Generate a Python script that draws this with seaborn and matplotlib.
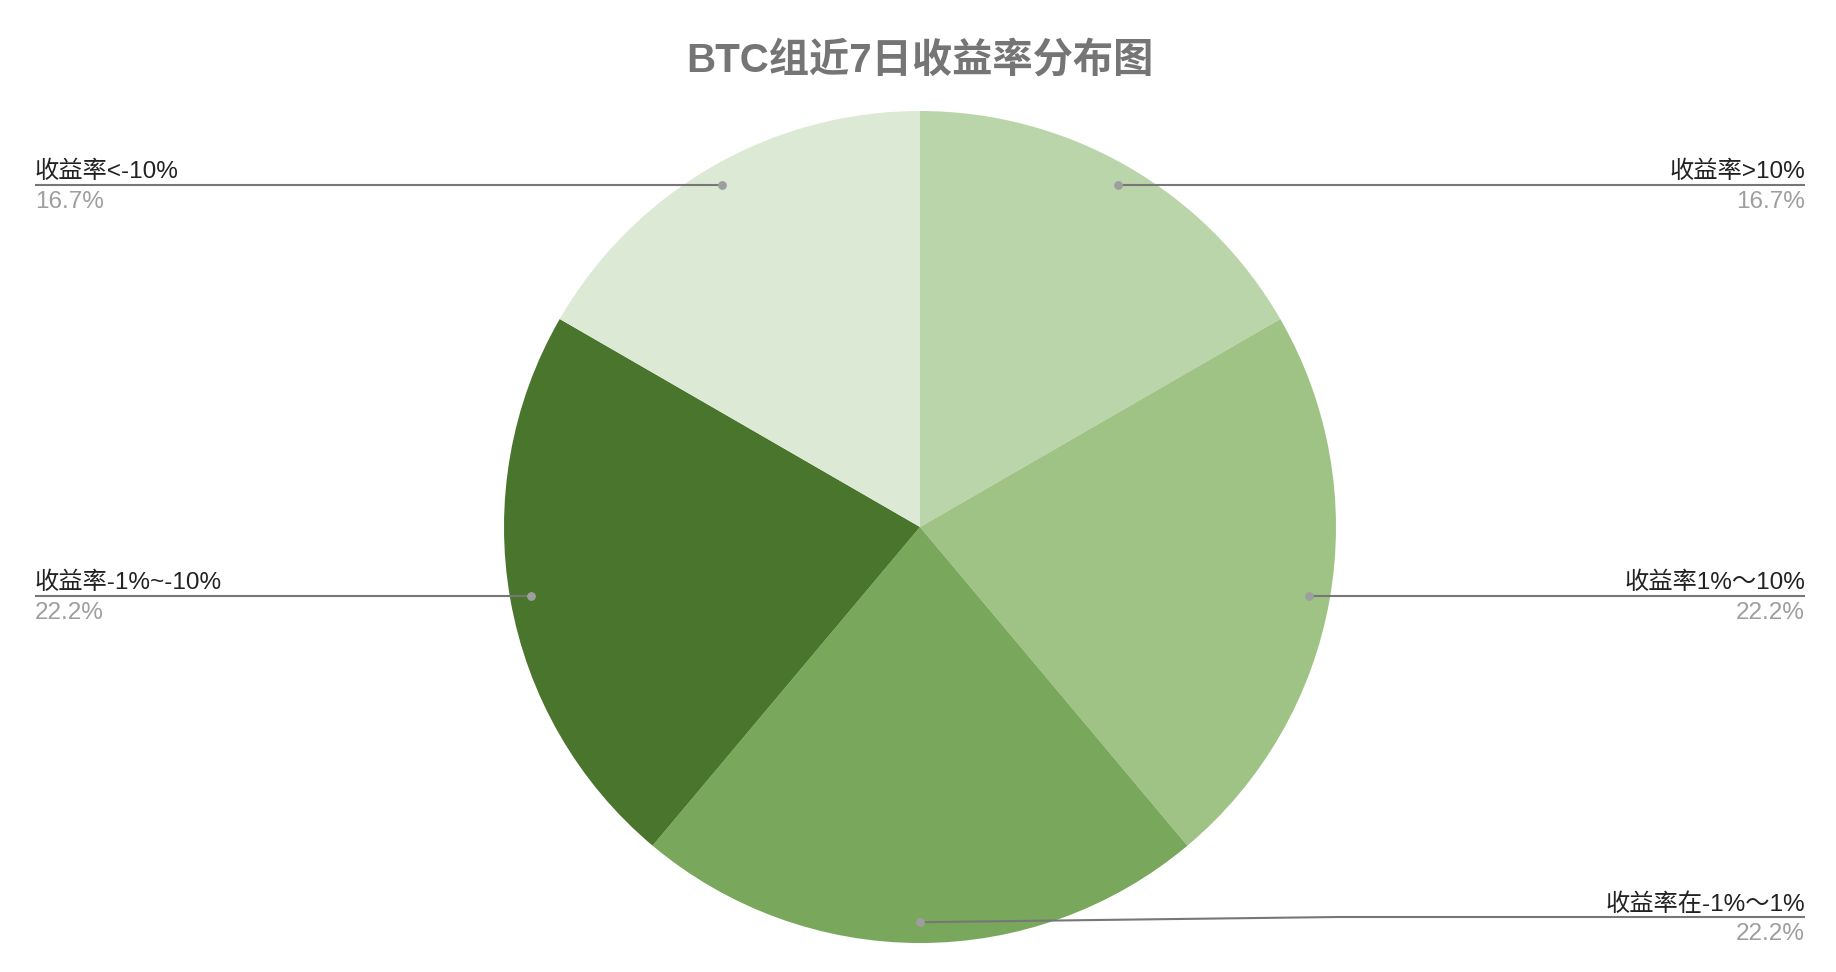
import numpy as np
import matplotlib
matplotlib.use("Agg")
import matplotlib.pyplot as plt
import seaborn as sns

# data (share of 18 positions)
categories = ['收益率>10%', '收益率1%～10%', '收益率在-1%～1%', '收益率-1%~-10%', '收益率<-10%']
counts = [3, 4, 4, 4, 3]
colors = ['#bbd5ab', '#9fc385', '#79a75c', '#4a752d', '#dce9d5']
title = 'BTC组近7日收益率分布图'

sns.set_theme(style='white')
plt.rcParams['font.family'] = ['Liberation Sans', 'Noto Sans CJK SC', 'DejaVu Sans']

W, H = 1836, 972
cx, cy, R = 920, 527, 416  # pie centre / radius in pixels

fig = plt.figure(figsize=(W / 100, H / 100), dpi=100)
ax = fig.add_axes([0, 0, 1, 1])

wedges, _ = ax.pie(counts, colors=colors, startangle=90, counterclock=False,
                   radius=1, wedgeprops=dict(linewidth=0))
ax.set_xlim(-cx / R, (W - cx) / R)
ax.set_ylim(-(H - cy) / R, cy / R)
ax.set_aspect('auto')
ax.axis('off')

x_left = (35 - cx) / R
x_right = (1805 - cx) / R
y_floor = (cy - 917) / R
total = sum(counts)

for w, cat, n in zip(wedges, categories, counts):
    mid = np.deg2rad((w.theta1 + w.theta2) / 2)
    dx, dy = 0.95 * np.cos(mid), 0.95 * np.sin(mid)
    right = dx > -0.01
    ly = max(dy, y_floor)
    ex = x_right if right else x_left
    elbow = 1.005 if right else -1.005
    if abs(dx) > 1.0:
        elbow = dx
    ax.plot([dx, elbow, ex], [dy, ly, ly], color='#777777', lw=1.5,
            solid_capstyle='butt', zorder=3)
    ax.scatter([dx], [dy], s=40, color='#9e9e9e', zorder=4, linewidths=0)
    ha = 'right' if right else 'left'
    ax.annotate(cat, (ex, ly), xytext=(0, 4.5), textcoords='offset points',
                ha=ha, va='baseline', fontsize=17.5, color='#222222')
    ax.annotate(f'{n / total * 100:.1f}%', (ex, ly), xytext=(0, -4.5),
                textcoords='offset points', ha=ha, va='top', fontsize=17.5,
                color='#9e9e9e')

fig.text(cx / W, 1 - 60 / H, title, ha='center', va='center', fontsize=29,
         fontweight='bold', color='#757575')

fig.savefig('out.png', dpi=100, facecolor='white')
